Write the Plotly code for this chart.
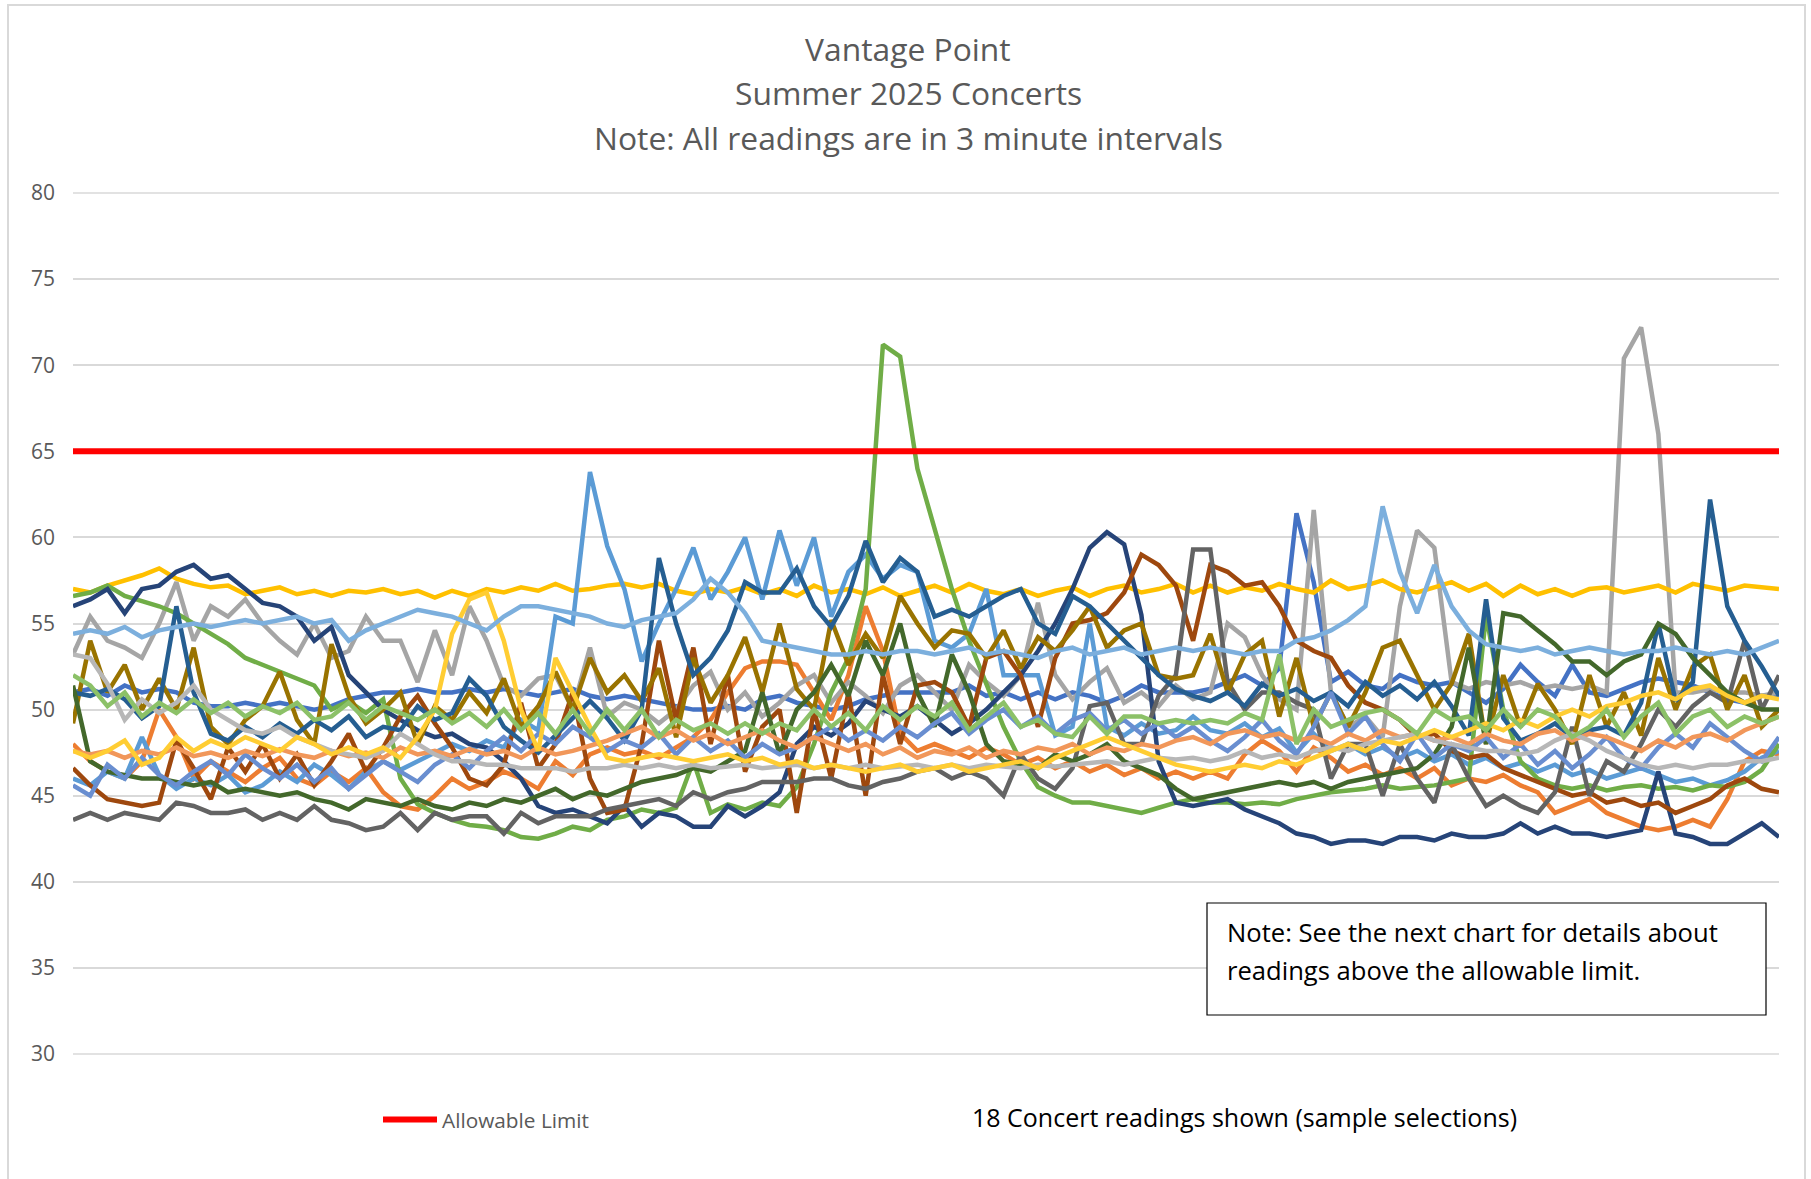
import plotly.graph_objects as go

# ---------------- data ----------------
READINGS = list(range(1, 101))          # reading number (3-minute intervals)
LIMIT = 65                              # allowable limit
Y_TICKS = [30, 35, 40, 45, 50, 55, 60, 65, 70, 75, 80]

S1 = [51.0,51.2,50.8,51.4,51.0,51.2,51.0,50.4,50.2,50.2,
      50.4,50.2,50.4,50.2,50.0,50.2,50.6,50.8,51.0,51.0,
      51.2,51.0,51.0,51.2,51.0,51.2,51.0,50.8,51.0,51.2,
      50.8,50.6,50.8,50.6,50.4,50.2,50.0,50.0,50.2,50.0,
      50.6,50.8,50.4,50.2,50.0,50.2,50.6,50.8,51.0,51.0,
      51.0,51.0,51.4,50.8,51.0,50.6,51.0,50.6,51.0,50.8,
      50.4,50.8,51.4,51.0,51.0,51.0,51.2,51.6,52.0,51.4,
      52.4,61.4,57.4,51.6,52.2,51.4,51.2,52.0,51.6,51.4,
      51.6,51.0,50.4,51.2,52.6,51.6,50.8,52.6,51.0,50.8,
      51.2,51.6,51.8,51.6,51.4,51.0,50.6,50.4,50.8,50.8]
S2 = [48.0,47.0,46.4,46.0,47.0,50.0,48.4,46.0,47.0,46.4,
      45.8,46.6,47.2,46.0,45.6,46.4,45.8,46.6,45.2,44.4,
      44.2,45.0,46.0,45.4,45.8,46.4,46.0,45.4,47.0,46.2,
      47.4,47.8,47.4,47.6,47.2,47.8,48.4,49.4,51.0,52.4,
      52.8,52.8,52.6,51.0,49.4,52.0,56.0,53.4,48.6,47.6,
      48.0,47.6,47.2,47.8,47.4,46.8,47.2,46.6,47.0,46.4,
      46.8,46.2,46.6,46.0,46.4,46.0,46.4,46.0,47.4,48.2,
      47.6,46.4,47.8,47.2,46.4,46.8,46.2,46.6,46.0,46.6,
      45.6,46.0,45.8,46.2,45.6,45.2,44.0,44.4,44.8,44.0,
      43.6,43.2,43.0,43.2,43.6,43.2,44.8,47.0,47.6,47.4]
S3 = [53.2,55.4,54.0,53.6,53.0,55.0,57.4,54.0,56.0,55.4,
      56.4,55.0,54.0,53.2,55.0,53.0,53.4,55.4,54.0,54.0,
      51.6,54.6,52.0,56.0,54.0,51.4,50.8,51.8,52.0,50.0,
      53.6,49.6,50.4,50.0,49.2,50.0,51.4,52.2,50.0,51.0,
      49.6,50.4,51.4,52.0,50.4,51.6,50.8,49.8,51.4,52.0,
      51.0,50.0,52.6,51.6,50.8,52.0,56.2,52.0,50.6,51.6,
      52.4,50.4,51.0,50.2,51.4,50.6,51.0,55.0,54.2,52.0,
      50.6,50.0,61.6,51.0,49.0,49.6,48.4,56.0,60.4,59.4,
      51.6,51.2,51.6,51.4,51.6,51.2,51.4,51.2,51.4,51.0,
      70.4,72.2,66.0,51.0,51.0,51.2,51.0,51.0,50.8,51.0]
S4 = [57.0,56.8,57.2,57.5,57.8,58.2,57.6,57.3,57.1,57.2,
      56.7,56.9,57.1,56.7,56.9,56.6,56.9,56.8,57.0,56.7,
      56.9,56.5,56.9,56.6,57.0,56.8,57.1,56.9,57.3,56.9,
      57.0,57.2,57.3,57.1,57.3,56.9,56.7,57.0,56.8,57.1,
      56.7,57.0,56.6,57.2,56.8,57.0,56.7,57.1,56.6,56.9,
      57.2,56.8,57.3,56.9,56.7,57.0,56.6,56.9,57.1,56.6,
      57.0,57.2,56.8,57.0,57.3,56.8,57.2,56.8,57.1,56.9,
      57.3,57.0,56.8,57.5,57.0,57.2,57.5,57.0,56.8,57.1,
      57.4,56.9,57.3,56.6,57.2,56.7,57.0,56.6,57.0,57.1,
      56.8,57.0,57.2,56.8,57.3,57.1,56.9,57.2,57.1,57.0]
S5 = [46.0,45.6,46.4,46.0,48.4,46.2,45.4,46.0,45.6,46.2,
      45.2,45.6,46.4,45.8,46.8,46.2,45.4,46.4,47.0,46.5,
      47.0,47.5,48.0,47.6,48.2,47.8,49.4,48.8,55.4,55.0,
      63.8,59.5,57.0,52.8,55.0,57.0,59.4,56.4,58.0,60.0,
      56.4,60.4,57.2,60.0,55.4,58.0,59.0,57.6,58.4,58.0,
      54.0,53.6,54.4,57.0,52.0,52.0,52.0,48.5,49.0,55.0,
      49.0,48.5,49.2,48.6,48.8,49.6,48.8,48.6,49.2,48.4,
      48.9,47.5,48.6,47.6,48.0,47.4,47.8,47.2,47.6,47.0,
      47.4,46.8,47.2,46.6,46.9,46.4,46.8,46.2,46.5,46.0,
      46.3,46.6,46.2,45.8,46.0,45.6,45.9,46.4,47.2,47.6]
S6 = [56.6,56.8,57.2,56.6,56.3,56.0,55.6,55.0,54.4,53.8,
      53.0,52.6,52.2,51.8,51.4,50.0,50.5,49.8,50.6,46.0,
      44.5,44.0,43.6,43.3,43.2,43.0,42.6,42.5,42.8,43.2,
      43.0,43.6,43.8,44.2,44.0,44.3,47.0,44.0,44.5,44.2,
      44.6,44.4,45.5,48.0,51.0,53.0,57.0,71.2,70.5,64.0,
      60.5,57.0,54.0,51.5,49.0,47.0,45.5,45.0,44.6,44.6,
      44.4,44.2,44.0,44.3,44.6,44.8,44.6,44.6,44.5,44.6,
      44.5,44.8,45.0,45.2,45.3,45.4,45.6,45.4,45.5,45.6,
      45.8,46.0,55.5,50.0,47.0,46.0,45.6,45.4,45.6,45.3,
      45.5,45.6,45.4,45.5,45.3,45.6,45.5,45.8,46.5,48.0]
S7 = [56.0,56.4,57.0,55.6,57.0,57.2,58.0,58.4,57.6,57.8,
      57.0,56.2,56.0,55.4,54.0,54.8,52.0,51.0,50.0,49.4,
      48.8,48.4,48.6,48.0,47.8,47.0,46.0,44.4,44.0,44.2,
      43.8,43.4,44.4,43.2,44.0,43.8,43.2,43.2,44.4,43.8,
      44.4,45.2,48.0,49.0,48.5,49.2,50.5,50.0,49.6,50.2,
      49.4,48.6,49.2,50.0,51.0,52.0,53.4,55.0,57.0,59.4,
      60.3,59.6,55.5,47.0,44.6,44.4,44.6,44.8,44.2,43.8,
      43.4,42.8,42.6,42.2,42.4,42.4,42.2,42.6,42.6,42.4,
      42.8,42.6,42.6,42.8,43.4,42.8,43.2,42.8,42.8,42.6,
      42.8,43.0,46.4,42.8,42.6,42.2,42.2,42.8,43.4,42.6]
S8 = [46.6,45.6,44.8,44.6,44.4,44.6,48.2,46.6,44.8,47.8,
      46.4,48.0,46.0,47.4,45.6,47.0,48.6,46.4,47.8,49.6,
      50.8,49.2,47.8,46.0,45.6,46.8,50.4,46.6,48.0,51.0,
      46.0,44.0,44.2,48.0,54.0,49.4,53.6,48.0,52.0,46.4,
      49.0,50.0,44.0,50.0,46.0,51.0,45.0,52.0,48.0,51.4,
      51.6,51.0,49.0,53.0,53.4,52.0,49.0,53.0,55.0,55.2,
      55.6,56.8,59.0,58.4,57.2,54.0,58.4,58.0,57.2,57.4,
      56.0,54.0,53.4,53.0,51.4,50.4,50.0,49.4,48.4,48.6,
      47.6,47.2,47.4,46.6,46.2,45.8,45.4,45.0,45.2,44.6,
      44.8,44.4,44.6,44.0,44.4,44.8,45.6,46.0,45.4,45.2]
S9 = [43.6,44.0,43.6,44.0,43.8,43.6,44.6,44.4,44.0,44.0,
      44.2,43.6,44.0,43.6,44.4,43.6,43.4,43.0,43.2,44.0,
      43.0,44.0,43.6,43.8,43.8,42.8,44.0,43.4,43.8,43.8,
      43.8,44.2,44.4,44.6,44.8,44.4,45.2,44.8,45.2,45.4,
      45.8,45.8,45.8,46.0,46.0,45.6,45.4,45.8,46.0,46.4,
      46.6,46.0,46.4,46.0,45.0,47.4,46.0,45.4,46.6,50.2,
      50.4,48.0,48.0,50.8,52.0,59.3,59.3,51.6,50.0,51.0,
      51.0,50.4,50.0,46.0,48.0,48.0,45.0,48.0,46.0,44.6,
      48.0,46.0,44.4,45.0,44.4,44.0,45.2,49.0,45.0,47.0,
      46.4,48.0,50.0,49.0,50.2,51.0,50.4,54.0,50.0,52.0]
S10 = [49.2,54.0,51.0,52.6,50.0,51.8,50.0,53.6,49.0,48.0,
       49.4,50.2,52.2,49.4,48.0,53.8,50.8,49.2,50.0,51.0,
       48.0,50.2,49.4,51.0,49.8,51.8,49.0,50.2,52.2,50.0,
       53.0,51.0,52.0,50.5,52.4,48.4,53.0,50.4,52.0,54.2,
       51.0,55.0,51.2,50.0,55.2,52.6,54.4,53.0,56.6,55.0,
       53.6,54.6,54.4,53.0,54.6,52.4,54.2,53.4,54.6,56.0,
       53.6,54.6,55.0,52.0,51.8,52.0,54.4,51.0,53.2,54.0,
       49.6,53.0,49.0,51.0,49.0,51.0,53.6,54.0,52.0,50.0,
       51.5,54.4,48.0,52.0,49.0,51.5,50.0,48.0,52.0,49.0,
       51.0,48.5,53.0,50.0,52.5,53.2,50.0,52.0,49.0,50.0]
S11 = [51.0,50.8,51.2,50.6,49.5,50.2,56.0,51.0,48.6,48.2,
       49.0,48.4,49.2,48.6,49.4,48.8,49.6,48.4,49.0,48.8,
       50.2,49.4,49.8,51.8,50.8,49.0,48.2,47.5,48.5,49.5,
       50.5,49.5,48.2,50.0,58.8,55.0,52.0,53.0,54.6,57.4,
       56.8,56.8,58.2,56.0,54.8,56.6,59.8,57.4,58.8,58.0,
       55.4,55.8,55.4,56.0,56.6,57.0,55.0,54.4,56.6,56.0,
       55.0,54.0,53.0,52.0,51.2,50.8,50.5,51.0,50.2,51.5,
       50.8,51.2,50.5,51.0,50.2,51.6,50.8,51.4,50.6,51.6,
       50.2,48.5,56.4,49.5,48.2,48.6,49.2,48.4,48.8,49.0,
       48.5,50.4,55.0,50.5,51.6,62.2,56.0,54.0,52.5,50.8]
S12 = [51.4,47.0,46.4,46.2,46.0,46.0,45.8,45.6,45.8,45.2,
       45.4,45.2,45.0,45.2,44.8,44.6,44.2,44.8,44.6,44.4,
       44.8,44.4,44.2,44.6,44.4,44.8,44.6,45.0,45.4,44.8,
       45.2,45.0,45.4,45.8,46.0,46.2,46.6,46.4,47.0,47.6,
       51.0,47.4,50.0,51.0,52.6,50.8,54.0,52.0,55.0,51.0,
       49.0,53.2,51.0,48.0,47.0,46.8,46.6,47.4,47.0,47.4,
       48.0,47.0,46.6,46.2,45.4,44.8,45.0,45.2,45.4,45.6,
       45.8,45.6,45.8,45.4,45.8,46.0,46.2,46.4,46.6,47.4,
       49.0,53.6,48.0,55.6,55.4,54.6,53.8,52.8,52.8,52.0,
       52.8,53.2,55.0,54.4,53.0,52.0,51.0,50.4,50.0,50.0]
S13 = [45.6,45.0,46.8,46.0,47.2,46.2,45.6,46.4,47.0,46.2,
       47.4,46.6,46.0,46.8,45.8,46.6,45.4,46.2,47.0,46.4,
       45.8,46.8,47.4,46.6,47.6,48.4,47.6,48.6,48.0,49.0,
       48.4,47.6,48.2,47.8,48.6,47.4,48.4,47.6,48.2,47.2,
       48.0,47.4,47.8,48.4,49.0,48.2,48.8,48.2,49.0,48.4,
       49.2,49.8,48.6,49.4,50.0,49.0,49.6,48.6,49.4,49.8,
       48.8,49.4,48.6,49.2,48.4,49.0,48.2,47.6,48.4,49.4,
       48.2,47.4,49.0,51.0,48.6,49.6,48.0,47.0,48.6,47.2,
       48.0,47.6,48.4,47.2,48.0,46.8,47.6,46.6,47.4,48.4,
       47.2,46.6,47.8,48.6,47.8,49.2,48.4,47.6,47.0,48.4]
S14 = [47.6,47.4,47.6,47.2,47.6,47.4,47.8,47.3,47.5,47.2,
       47.6,47.3,47.7,47.4,47.2,47.6,47.3,47.5,47.2,47.8,
       47.4,47.6,47.3,47.7,47.4,47.6,47.2,47.8,47.4,47.6,
       47.9,48.2,48.6,49.0,48.4,48.8,48.2,48.6,48.0,48.4,
       48.8,48.2,47.8,48.4,48.0,47.6,48.0,47.4,47.8,47.2,
       47.6,47.4,47.8,47.2,47.6,47.4,47.8,47.6,48.0,47.4,
       47.8,47.6,48.0,47.8,48.2,48.4,48.0,48.6,48.8,48.4,
       48.6,48.2,48.4,48.0,48.6,48.2,48.8,48.4,48.6,48.2,
       48.4,48.0,48.6,48.2,48.0,48.6,48.8,48.2,48.6,48.4,
       48.0,47.6,48.2,47.8,48.4,48.6,48.2,48.8,49.2,49.6]
S15 = [53.2,53.0,51.5,49.4,50.6,49.8,50.4,51.4,50.0,49.4,
       48.8,48.6,49.0,48.4,48.0,47.6,47.4,47.2,47.6,48.6,
       48.0,47.4,47.0,47.0,46.8,46.8,46.6,46.6,46.6,46.4,
       46.6,46.6,46.8,46.6,46.8,46.6,46.8,46.6,46.7,46.8,
       46.6,46.7,46.8,46.6,46.8,46.6,46.8,46.6,46.7,46.8,
       46.6,46.8,46.6,46.8,46.7,46.6,46.8,46.7,46.8,46.9,
       47.0,46.8,47.0,47.2,47.1,47.2,47.0,47.2,47.6,47.2,
       47.4,47.2,47.6,47.8,47.6,48.0,48.2,48.4,48.6,48.2,
       48.0,47.8,47.6,47.6,47.4,47.6,48.2,48.6,48.2,47.6,
       47.2,46.8,46.6,46.8,46.6,46.8,46.8,47.0,47.0,47.2]
S16 = [47.6,47.2,47.6,48.2,46.8,47.2,48.4,47.6,48.2,47.8,
       48.4,48.0,47.6,48.4,48.0,47.4,47.8,47.4,47.8,47.2,
       48.4,50.0,54.4,56.4,56.8,54.0,50.0,47.6,53.0,51.0,
       49.0,47.2,47.0,47.2,47.4,47.2,47.0,47.2,47.4,47.0,
       47.2,46.8,47.0,46.6,46.8,46.6,46.4,46.6,46.8,46.4,
       46.6,46.8,46.4,46.6,46.8,47.0,46.6,47.2,47.6,48.0,
       48.4,48.0,47.6,47.2,46.8,46.6,46.4,46.6,46.8,46.6,
       47.0,46.8,47.2,47.6,48.0,47.6,48.2,48.0,48.4,48.8,
       48.4,48.8,49.2,48.8,49.4,49.0,49.6,50.0,49.6,50.2,
       50.4,50.8,51.0,50.6,51.2,51.4,50.8,50.4,50.8,50.6]
S17 = [54.4,54.6,54.4,54.8,54.2,54.6,54.8,55.0,54.8,55.0,
       55.2,55.0,55.2,55.4,55.0,55.2,54.0,54.6,55.0,55.4,
       55.8,55.6,55.4,55.0,54.6,55.4,56.0,56.0,55.8,55.6,
       55.4,55.0,54.8,55.2,55.4,55.6,56.4,57.6,56.8,55.6,
       54.0,53.8,53.6,53.4,53.2,53.2,53.4,53.2,53.4,53.4,
       53.2,53.4,53.6,53.2,53.4,53.2,53.0,53.4,53.6,53.2,
       53.4,53.6,53.2,53.4,53.6,53.4,53.6,53.4,53.2,53.4,
       53.4,54.0,54.2,54.6,55.2,56.0,61.8,58.0,55.6,58.4,
       56.0,54.6,53.8,53.6,53.4,53.6,53.2,53.4,53.6,53.4,
       53.2,53.4,53.4,53.6,53.4,53.2,53.4,53.2,53.6,54.0]
S18 = [52.0,51.4,50.2,51.0,49.6,50.4,49.8,50.6,49.8,50.4,
       49.6,50.2,49.8,50.4,49.4,49.6,50.4,49.4,50.2,49.8,
       49.4,50.0,49.2,49.8,49.0,50.0,48.8,49.8,48.6,50.0,
       48.6,50.0,48.8,50.0,48.4,49.4,48.8,49.2,48.6,49.2,
       48.6,49.2,48.8,50.0,49.0,49.8,48.8,50.2,49.4,50.2,
       49.6,50.4,48.8,49.6,50.4,49.0,49.4,48.6,48.4,49.6,
       48.6,49.6,49.6,49.2,49.4,49.2,49.4,49.2,49.8,49.4,
       53.2,48.0,50.0,49.0,49.4,49.8,50.0,49.4,48.6,50.0,
       49.4,49.6,48.8,50.0,49.0,50.0,49.6,48.4,49.0,50.0,
       48.4,49.6,50.4,48.6,49.6,50.0,49.0,49.6,49.2,49.6]

SERIES = [S1, S2, S3, S4, S5, S6, S7, S8, S9, S10, S11, S12, S13, S14, S15, S16, S17, S18]
NAMES = ["Concert %d" % (i + 1) for i in range(len(SERIES))]
COLORS = ["#4472C4", "#ED7D31", "#A5A5A5", "#FFC000", "#5B9BD5", "#70AD47",
          "#264478", "#9E480E", "#636363", "#997300", "#255E91", "#43682B",
          "#698ED0", "#F1975A", "#B7B7B7", "#FFCD33", "#7CAFDD", "#8CC168"]

TITLE_LINES = ["Vantage Point", "Summer 2025 Concerts", "Note: All readings are in 3 minute intervals"]
NOTE_LINES = ["Note: See the next chart for details about", "readings above the allowable limit."]
FOOTER = "18 Concert readings shown (sample selections)"
LIMIT_NAME = "Allowable Limit"

# ---------------- geometry ----------------
W, H = 1811, 1179
ML, MR, MT, MB = 73, 32, 193, 125
PW, PH = W - ML - MR, H - MT - MB
FONT = "Open Sans"
GREY = "#595959"
GRID = "#D9D9D9"

def px(x):
    return (x - ML) / PW

def py(y):
    return (H - MB - y) / PH

fig = go.Figure()
for name, ys, col in zip(NAMES, SERIES, COLORS):
    fig.add_trace(go.Scatter(x=READINGS, y=ys, mode="lines", name=name,
                             line=dict(color=col, width=4.5), showlegend=False,
                             hoverinfo="skip"))

fig.add_trace(go.Scatter(x=READINGS, y=[LIMIT] * len(READINGS), mode="lines",
                         name=LIMIT_NAME, line=dict(color="#FF0000", width=6),
                         showlegend=True))

annotations = []
for text, yc in zip(TITLE_LINES, [48, 92, 137]):
    annotations.append(dict(text=text, xref="paper", yref="paper", x=px(908), y=py(yc),
                            xanchor="center", yanchor="middle", showarrow=False,
                            font=dict(family=FONT, size=31.8, color=GREY)))
for text, yc in zip(NOTE_LINES, [932, 970]):
    annotations.append(dict(text=text, xref="paper", yref="paper", x=px(1225), y=py(yc),
                            xanchor="left", yanchor="middle", showarrow=False,
                            font=dict(family=FONT, size=25.6, color="#000000")))
annotations.append(dict(text=FOOTER, xref="paper", yref="paper", x=px(1244), y=py(1117),
                        xanchor="center", yanchor="middle", showarrow=False,
                        font=dict(family=FONT, size=25, color="#000000")))

shapes = [
    dict(type="rect", xref="paper", yref="paper", x0=px(8), x1=px(1805), y0=py(1190), y1=py(5),
         line=dict(color=GRID, width=2), fillcolor="rgba(0,0,0,0)", layer="below"),
    dict(type="rect", xref="paper", yref="paper", x0=px(1207), x1=px(1766), y0=py(1015), y1=py(903),
         line=dict(color="#000000", width=1.2), fillcolor="#FFFFFF", layer="above"),
]
# gridlines at the two ends of the value axis (Plotly omits edge gridlines);
# paper refs so they are not half-clipped by the plot area
for yp in (0, 1):
    shapes.append(dict(type="line", xref="paper", yref="paper", x0=0, x1=1, y0=yp, y1=yp,
                       line=dict(color=GRID, width=1.5), layer="below"))

fig.update_layout(
    width=W, height=H,
    margin=dict(l=ML, r=MR, t=MT, b=MB, pad=0),
    paper_bgcolor="#FFFFFF", plot_bgcolor="#FFFFFF",
    font=dict(family=FONT, color=GREY),
    annotations=annotations, shapes=shapes,
    showlegend=True,
    legend=dict(x=px(378), y=py(1120), xanchor="left", yanchor="middle",
                orientation="h", bgcolor="rgba(0,0,0,0)", itemwidth=54,
                font=dict(family=FONT, size=20.8, color=GREY)),
    xaxis=dict(range=[READINGS[0], READINGS[-1]], visible=False, showgrid=False, zeroline=False),
    yaxis=dict(range=[Y_TICKS[0], Y_TICKS[-1]], tickvals=Y_TICKS, showgrid=True,
               gridcolor=GRID, gridwidth=1.5,
               zeroline=False, showline=False, ticks="", ticklabelstandoff=17,
               tickfont=dict(family=FONT, size=21, color=GREY)),
)

fig.write_html("out.html", config={"displayModeBar": False},
               post_script="document.body.style.margin='0';document.body.style.overflow='hidden';")
